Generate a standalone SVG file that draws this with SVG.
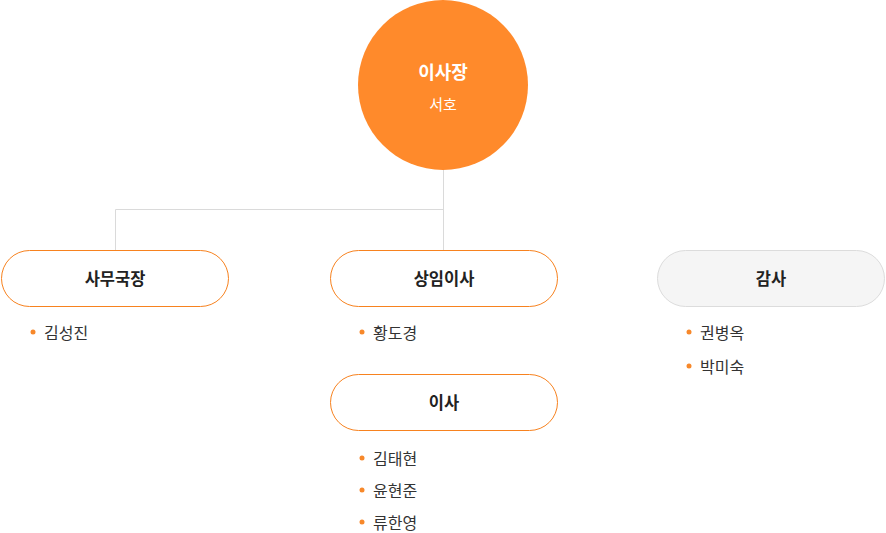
<svg xmlns="http://www.w3.org/2000/svg" width="886" height="533" viewBox="0 0 886 533">
<style>
.box{fill:#fff;stroke:#f7821f;stroke-width:1}
.gray{fill:#f5f5f5;stroke:#dcdcdc;stroke-width:1}
.t{font-family:"Noto Sans CJK KR","Noto Sans",sans-serif;font-weight:bold;font-size:16.5px;fill:#222;text-anchor:middle}
.li{font-family:"Noto Sans CJK KR","Noto Sans",sans-serif;font-size:16px;fill:#333}
.dot{fill:#f7882a}
.conn{stroke:#dadada;stroke-width:1;fill:none}
</style>
<g id="connectors">
<path class="conn" d="M443.5 170 V250 M443.5 209.5 H115.5 V250"/>
</g>
<g id="chairman">
<circle cx="443" cy="85" r="85" fill="#ff8a2b"/>
<text x="443" y="79" font-family="Noto Sans CJK KR,sans-serif" font-weight="bold" font-size="18" fill="#fff" text-anchor="middle">이사장</text>
<text x="443" y="110" font-family="Noto Sans CJK KR,sans-serif" font-size="15" fill="#fff" text-anchor="middle">서호</text>
</g>
<g id="secretary">
<rect class="box" x="1.5" y="250.5" width="227" height="56" rx="28"/>
<text class="t" x="115" y="285">사무국장</text>
<circle class="dot" cx="33" cy="332" r="2.5"/>
<text class="li" x="44" y="339">김성진</text>
</g>
<g id="standing-director">
<rect class="box" x="330.5" y="250.5" width="227" height="56" rx="28"/>
<text class="t" x="444" y="285">상임이사</text>
<circle class="dot" cx="362" cy="332" r="2.5"/>
<text class="li" x="373" y="339">황도경</text>
</g>
<g id="auditor">
<rect class="gray" x="657.5" y="250.5" width="227" height="56" rx="28"/>
<text class="t" x="771" y="285">감사</text>
<circle class="dot" cx="689" cy="332" r="2.5"/>
<text class="li" x="700" y="339">권병옥</text>
<circle class="dot" cx="689" cy="366" r="2.5"/>
<text class="li" x="700" y="373">박미숙</text>
</g>
<g id="directors">
<rect class="box" x="330.5" y="374.5" width="227" height="56" rx="28"/>
<text class="t" x="444" y="409">이사</text>
<circle class="dot" cx="362" cy="458" r="2.5"/>
<text class="li" x="373" y="465">김태현</text>
<circle class="dot" cx="362" cy="490" r="2.5"/>
<text class="li" x="373" y="497">윤현준</text>
<circle class="dot" cx="362" cy="522" r="2.5"/>
<text class="li" x="373" y="529">류한영</text>
</g>
</svg>
